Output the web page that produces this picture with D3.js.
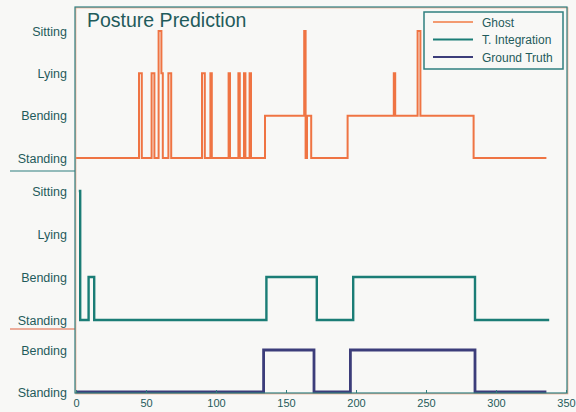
<!DOCTYPE html>
<html>
<head>
<meta charset="utf-8">
<script src="https://cdn.jsdelivr.net/npm/d3@7"></script>
<style>
  body { margin: 0; background: #f8f8f6; }
  svg { display: block; font-family: "Liberation Sans", Arial, sans-serif; }
</style>
</head>
<body>
<script>
// postures, bottom to top
var postures = ['Standing', 'Bending', 'Lying', 'Sitting'];
var truthPostures = ['Standing', 'Bending'];
var xTicks = [0, 50, 100, 150, 200, 250, 300, 350];

// change points: [time, posture index]; last entry is where the trace ends
var ghost = [[0,0],[45,2],[47,0],[54,2],[56,0],[59,3],[61,2],[62,0],[66,2],[68,0],
  [90,2],[92,0],[96,2],[97,0],[109,2],[110,0],[116,2],[117,0],[120,2],[121,0],[124,2],[125,0],
  [135,1],[163,3],[164,0],[165,1],[168,0],[194,1],[227,2],[228,1],[244,3],[246,1],[284,0],[336,0]];
var integration = [[2,3],[3,0],[9,1],[13,0],[136,1],[172,0],[198,1],[285,0],[338,0]];
var groundTruth = [[0,0],[134,1],[170,0],[196,1],[285,0],[336,0]];

var legendNames = ['Ghost', 'T. Integration', 'Ground Truth'];
var colors = { ghost: '#ef7443', integ: '#1b7d76', truth: '#3c3d7a', frame: '#2f7f7f', text: '#1f5b5b' };

var W = 576, H = 412;
var plotLeft = 75, plotRight = 567, plotTop = 7, plotBottom = 393;

var svg = d3.select('body').append('svg').attr('width', W).attr('height', H);

var x = d3.scaleLinear().domain([0, 350]).range([plotLeft + 1, plotRight - 1]);
var yTop = d3.scalePoint().domain(postures).range([158, 31]);
var yMid = d3.scalePoint().domain(postures).range([320, 191]);
var yBot = d3.scalePoint().domain(truthPostures).range([392, 350]);

function drawAxis(scale) {
  var g = svg.append('g').attr('transform', 'translate(' + plotLeft + ',0)')
    .call(d3.axisLeft(scale).tickSize(0).tickPadding(8));
  g.select('.domain').remove();
  g.selectAll('text').attr('fill', colors.text).style('font-size', '12.5px');
}
drawAxis(yTop);
drawAxis(yMid);
drawAxis(yBot);

// separators left of the plot
svg.append('line').attr('x1', 10).attr('x2', plotLeft).attr('y1', 171).attr('y2', 171)
  .attr('stroke', colors.frame).attr('stroke-width', 1.2);
svg.append('line').attr('x1', 10).attr('x2', plotLeft).attr('y1', 329).attr('y2', 329)
  .attr('stroke', '#e0603f').attr('stroke-width', 1.2);

function trace(data, yScale, color, width) {
  var line = d3.line()
    .x(function (d) { return x(d[0]); })
    .y(function (d) { return yScale(postures[d[1]]); })
    .curve(d3.curveStepAfter);
  svg.append('path').datum(data).attr('d', line)
    .attr('fill', 'none').attr('stroke', color).attr('stroke-width', width)
    .attr('stroke-linejoin', 'miter');
}
trace(ghost, yTop, colors.ghost, 2);
trace(integration, yMid, colors.integ, 2.4);
trace(groundTruth, yBot, colors.truth, 2.8);

// frame
svg.append('rect').attr('x', plotLeft).attr('y', plotTop)
  .attr('width', plotRight - plotLeft).attr('height', plotBottom - plotTop)
  .attr('fill', 'none').attr('stroke', '#f0a080').attr('stroke-width', 1)
  .attr('transform', 'translate(0.8,0.8)');
svg.append('rect').attr('x', plotLeft).attr('y', plotTop)
  .attr('width', plotRight - plotLeft).attr('height', plotBottom - plotTop)
  .attr('fill', 'none').attr('stroke', colors.frame).attr('stroke-width', 1.2);

// x axis
var gx = svg.append('g').attr('transform', 'translate(0,' + plotBottom + ')')
  .call(d3.axisBottom(x).tickValues(xTicks).tickSizeInner(-3).tickSizeOuter(0).tickPadding(6));
gx.select('.domain').remove();
gx.selectAll('line').attr('stroke', colors.frame);
gx.selectAll('text').attr('fill', colors.text).style('font-size', '11px');

// title
svg.append('text').attr('x', 87).attr('y', 27).text('Posture Prediction')
  .attr('fill', colors.text).style('font-size', '19.5px');

// legend
var lg = svg.append('g').attr('transform', 'translate(424,12)');
lg.append('rect').attr('width', 139).attr('height', 57).attr('fill', '#f8f8f6')
  .attr('stroke', colors.frame).attr('stroke-width', 1.5);
var legendColors = ['#f39a70', colors.integ, colors.truth];
legendNames.forEach(function (name, i) {
  var yy = 10 + i * 17.5;
  lg.append('line').attr('x1', 9).attr('x2', 49).attr('y1', yy).attr('y2', yy)
    .attr('stroke', legendColors[i]).attr('stroke-width', 2);
  lg.append('text').attr('x', 58).attr('y', yy + 4.5).text(name)
    .attr('fill', colors.text).style('font-size', '12px');
});
</script>
</body>
</html>
